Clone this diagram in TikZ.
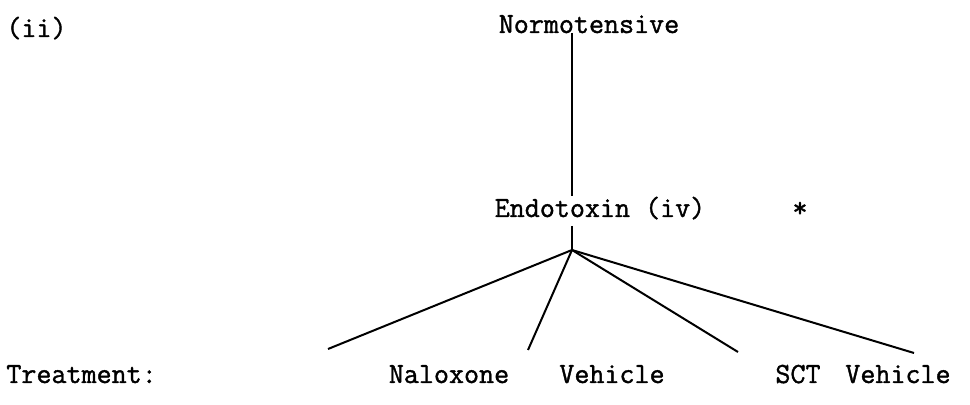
\documentclass[tikz,border=0pt]{standalone}
\usepackage{fontspec}
\newfontfamily\twfont[FakeBold=1.3]{Latin Modern Mono}
\usetikzlibrary{positioning}
\tikzset{
  tw/.style={font=\twfont\fontsize{14.6}{17}\selectfont, inner sep=0pt, anchor=base},
  br/.style={draw=black, line width=1pt},
}
\begin{document}
\begin{tikzpicture}[x=0.5pt,y=-0.5pt]
  \useasboundingbox (0,0) rectangle (970,405);
  \node[tw, anchor=base west] (part) at (6,37) {(ii)};
  \node[tw] (norm) at (589,33) {Normotensive};
  \node[tw] (endo) at (600,217) {Endotoxin (iv)};
  \node[tw] (star) at (800,217) {*};
  \coordinate (hub) at (572,250);
  \node[tw, anchor=base west] (treat) at (6,383) {Treatment:};
  \node[tw] (nal) at (449,383) {Naloxone};
  \node[tw] (veh1) at (612,383) {Vehicle};
  \node[tw] (sct) at (798,383) {SCT};
  \node[tw] (veh2) at (898,383) {Vehicle};
  \coordinate (e1) at (328,349);
  \coordinate (e2) at (528,350);
  \coordinate (e3) at (738,352);
  \coordinate (e4) at (914,353);
  \draw[br] (norm.base -| hub) -- (endo.north -| hub);
  \draw[br, shorten <=3pt] (endo.south -| hub) -- (hub);
  \foreach \e in {e1,e2,e3,e4} \draw[br] (hub) -- (\e);
\end{tikzpicture}
\end{document}
